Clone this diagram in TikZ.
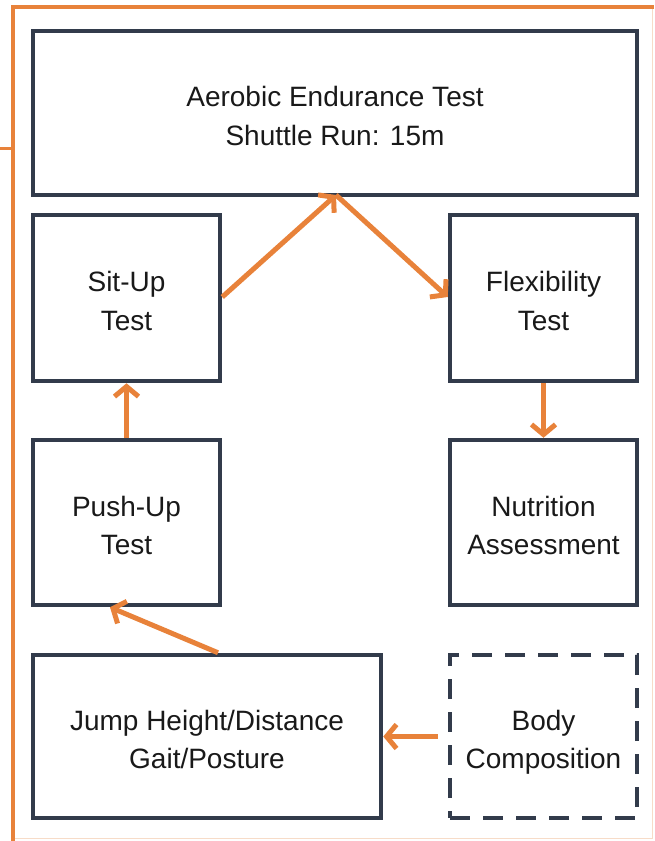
\documentclass[tikz,border=0pt]{standalone}
\usepackage{fontspec}
\setmainfont{Liberation Sans}
\usetikzlibrary{arrows.meta}
\definecolor{navy}{HTML}{323B4B}
\definecolor{org}{HTML}{E8823A}
\definecolor{lorg}{HTML}{F7DCC8}
\begin{document}
\begin{tikzpicture}[x=1pt,y=-1pt,
  box/.style={draw=navy,line width=4.5pt,rectangle,inner sep=0pt,align=center,
    text height=64pt,text depth=0pt,
    font=\fontsize{28}{38.5}\selectfont,text=black!90},
  arr/.style={draw=org,line width=5pt,-{Straight Barb[length=10pt,width=24pt,line width=5pt]}}]
\useasboundingbox (0,0) rectangle (654,841);
% frame
\draw[lorg,line width=1pt] (13,7) rectangle (652,838);
\draw[org,line width=4pt] (654,7) -- (13,7) -- (13,841);
\draw[org,line width=3pt] (0,148) -- (13,148);
% boxes
\node[box,minimum width=604pt,minimum height=164pt] (aer) at (335,113) {Aerobic Endurance Test\\Shuttle Run: 15m};
\node[box,minimum width=187pt,minimum height=166pt] (sit) at (126.5,298) {Sit-Up\\Test};
\node[box,minimum width=187pt,minimum height=166pt] (flex) at (543.5,298) {Flexibility\\Test};
\node[box,minimum width=187pt,minimum height=165pt] (push) at (126.5,522.5) {Push-Up\\Test};
\node[box,minimum width=187pt,minimum height=165pt] (nut) at (543.5,522.5) {Nutrition\\Assessment};
\node[box,minimum width=348pt,minimum height=163pt] (jump) at (207,736.5) {Jump Height/Distance\\Gait/Posture};
\node[box,dash pattern=on 20pt off 13pt,minimum width=187pt,minimum height=163pt] (body) at (543.5,736.5) {Body\\Composition};
% arrows
\coordinate (apex) at (336,195);
\draw[arr] (sit.east |- 0,297) -- (apex);
\draw[arr] (apex) -- (flex.west |- 0,297);
\draw[arr] (flex.south) -- (nut.north);
\draw[arr] (push.north) -- (sit.south);
\draw[arr] (jump.north -| 218,0) -- (push.south -| 110,0);
\draw[arr] ([xshift=-10pt]body.west) -- (jump.east);
\end{tikzpicture}
\end{document}
